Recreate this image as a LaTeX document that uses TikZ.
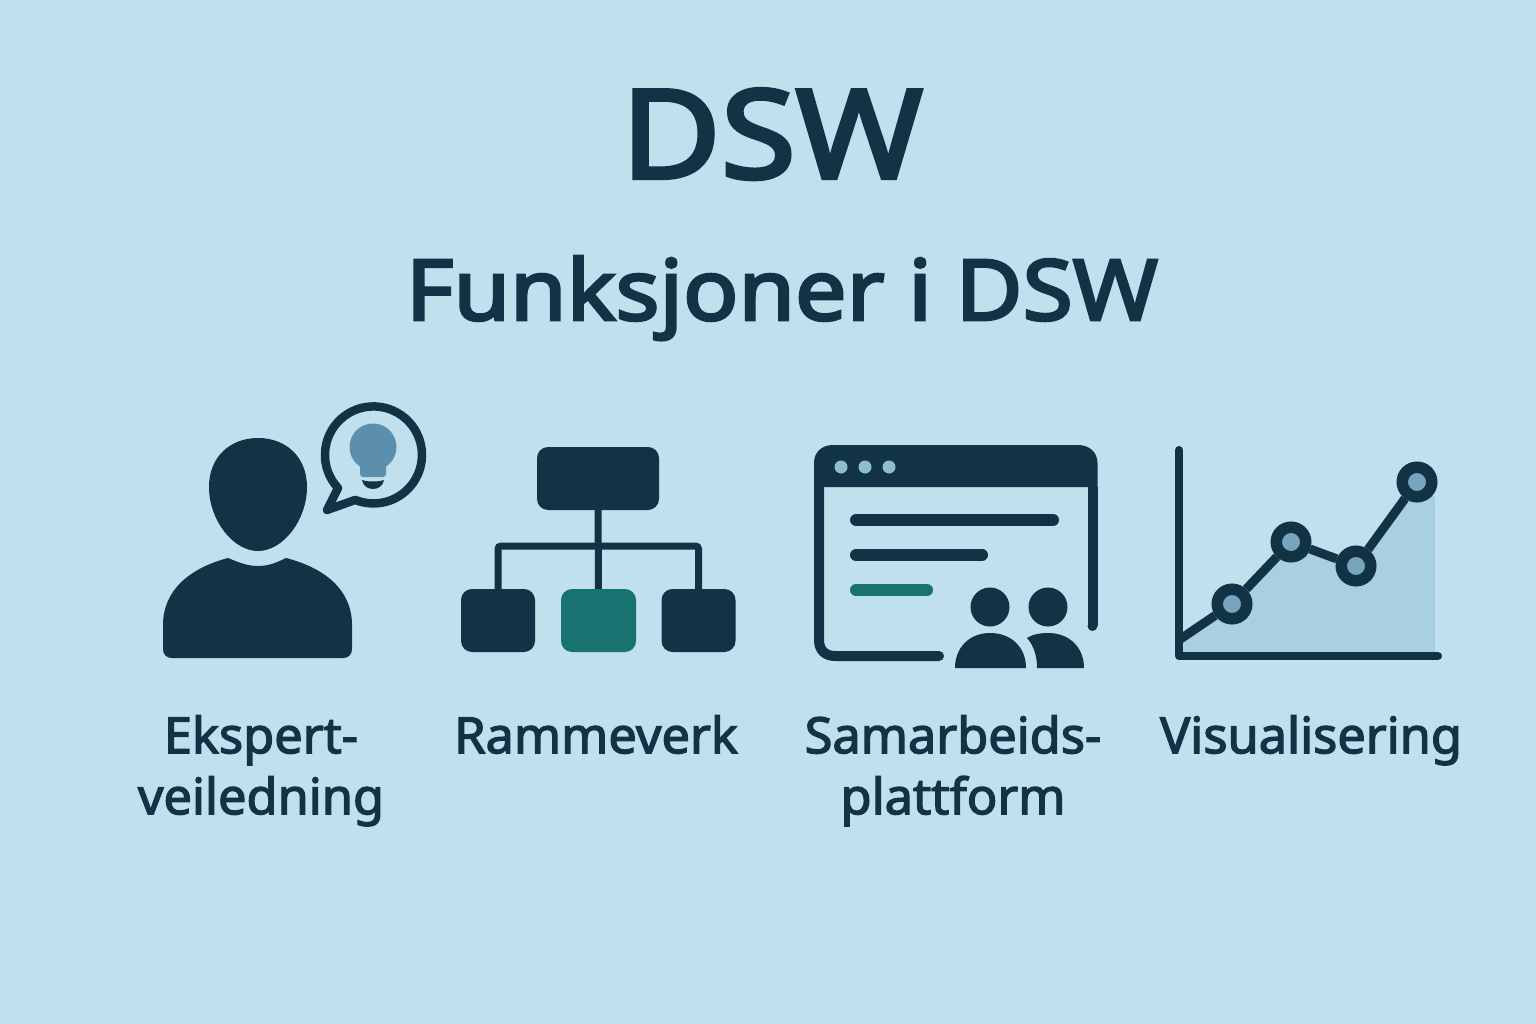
\documentclass[tikz,border=0pt]{standalone}
\usepackage{fontspec}
\setmainfont{Noto Sans}[RawFeature={embolden=2.6}]
\usetikzlibrary{positioning,calc}
\definecolor{bgblue}{HTML}{BFE0EC}
\definecolor{navy}{HTML}{123246}
\definecolor{teal}{HTML}{187370}
\definecolor{bulb}{HTML}{5B8FAB}
\definecolor{dotblue}{HTML}{8FBDD0}
\definecolor{areablue}{HTML}{A9D0E0}
\definecolor{markblue}{HTML}{77A5BC}
\tikzset{
    titletext/.style={navy,inner sep=0,anchor=base,font=\fontsize{123}{123}\selectfont\addfontfeature{FakeStretch=1.11,RawFeature={embolden=3.4}}},
    subtext/.style={navy,inner sep=0,anchor=base,font=\fontsize{84}{84}\selectfont\addfontfeature{FakeStretch=1.09,RawFeature={embolden=3.4}}},
    labeltext/.style={navy,inner sep=0,anchor=north,align=center,font=\fontsize{50}{61}\selectfont\addfontfeature{FakeStretch=1.01}},
    orgbox/.style={fill=navy,rounded corners=11,inner sep=0},
    orgline/.style={navy,line width=7},
    frameline/.style={navy,line width=10},
    textline/.style={navy,line width=12,line cap=round},
    axisline/.style={navy,line width=8,line cap=round,line join=round},
    marknode/.style={circle,draw=navy,line width=11.5,fill=markblue,minimum size=29.5,inner sep=0},
    plotline/.style={navy,line width=9},
}
\begin{document}
\begin{tikzpicture}[x=1pt,y=-1pt]
    \fill[bgblue] (0,0) rectangle (1536,1024);
    \useasboundingbox (0,0) rectangle (1536,1024);

    \node [titletext] (dsw) at (772,178) {DSW};
    \node [subtext] (funk) at (782,320) {Funksjoner i DSW};

    % person with speech bubble
    \fill[navy] (258,438) .. controls (286,438) and (307,457) .. (307,487)
        .. controls (307,520) and (283,551) .. (258,551)
        .. controls (233,551) and (209,520) .. (209,487)
        .. controls (209,457) and (230,438) .. (258,438) -- cycle;
    \fill[navy] (228,558) .. controls (240,563) and (248,566) .. (258,566)
        .. controls (268,566) and (276,563) .. (286,558)
        .. controls (325,568) and (352,590) .. (352,625)
        -- (352,649) .. controls (352,655) and (348,658) .. (343,658)
        -- (172,658) .. controls (167,658) and (163,655) .. (163,649)
        -- (163,625) .. controls (163,590) and (190,568) .. (228,558) -- cycle;
    \draw[navy,line width=8.5,line join=round] (338,488)
        arc[start angle=137,end angle=472,radius=48.5] -- (327,510) -- cycle;
    \fill[bulb] (373,447) circle (23.5);
    \fill[bulb,rounded corners=3] (360,462) -- (360,477) -- (386,477) -- (386,462) -- cycle;
    \fill[navy] (362,480) .. controls (368,482) and (378,482) .. (384,480)
        .. controls (383,486) and (378,489) .. (373,489)
        .. controls (368,489) and (363,486) .. (362,480) -- cycle;

    % org chart
    \node [orgbox,minimum width=122,minimum height=63] (top) at (598,478.5) {};
    \node [orgbox,minimum width=74,minimum height=63] (left) at (498,620.5) {};
    \node [orgbox,minimum width=75,minimum height=63,fill=teal] (mid) at (598.5,620.5) {};
    \node [orgbox,minimum width=74,minimum height=63] (right) at (698.5,620.5) {};
    \coordinate (bus) at (598,546);
    \draw[orgline] (top) -- (mid);
    \draw[orgline,rounded corners=3] (left.north) |- (bus) -| (right.north);

    % window with two users
    \fill[navy] (814,487) -- (814,463) .. controls (814,452) and (822,445) .. (833,445)
        -- (1078,445) .. controls (1089,445) and (1097.5,452) .. (1097.5,463) -- (1097.5,487) -- cycle;
    \draw[frameline] (819,487) -- (819,640) .. controls (819,650) and (825,656) .. (835,656) -- (939,656);
    \draw[frameline] (1092.5,487) -- (1092.5,626);
    \fill[navy] (939,656) circle (5) (1092.5,626) circle (5);
    \foreach \dotx in {841,865,889}
        \fill[dotblue] (\dotx,467) circle (6.5);
    \draw[textline] (856,520) -- (1053,520);
    \draw[textline] (856,555) -- (982,555);
    \draw[textline,teal] (856,590) -- (927,590);
    \fill[navy] (990,607) circle (19.5);
    \fill[navy] (1048,607) circle (19.5);
    \fill[navy] (955,668) .. controls (955,647) and (970,633) .. (990,633)
        .. controls (1011,633) and (1026,647) .. (1026,668) -- cycle;
    \fill[navy] (1027,638) .. controls (1033,634) and (1040,633) .. (1048,633)
        .. controls (1069,633) and (1084,647) .. (1084,668)
        -- (1037,668) .. controls (1037,656) and (1034,646) .. (1027,638) -- cycle;

    % line chart
    \fill[areablue] (1183,640) -- (1232,604) -- (1291,542) -- (1356,566) -- (1417,482)
        -- (1435,497) -- (1435,652) -- (1183,652) -- cycle;
    \draw[axisline] (1179,450) -- (1179,656) -- (1438,656);
    \coordinate (start) at (1179,640);
    \node [marknode] (p1) at (1232,604) {};
    \node [marknode] (p2) at (1291,542) {};
    \node [marknode] (p3) at (1356,566) {};
    \node [marknode] (p4) at (1417,482) {};
    \draw[plotline] (start) -- (p1) (p1) -- (p2) (p2) -- (p3) (p3) -- (p4);

    \node [labeltext] (expert) at (261,715) {Ekspert-\\veiledning};
    \node [labeltext] (ramme) at (596,715) {Rammeverk};
    \node [labeltext] (samarb) at (953,715) {Samarbeids-\\plattform};
    \node [labeltext] (visual) at (1311,715) {Visualisering};
\end{tikzpicture}
\end{document}
